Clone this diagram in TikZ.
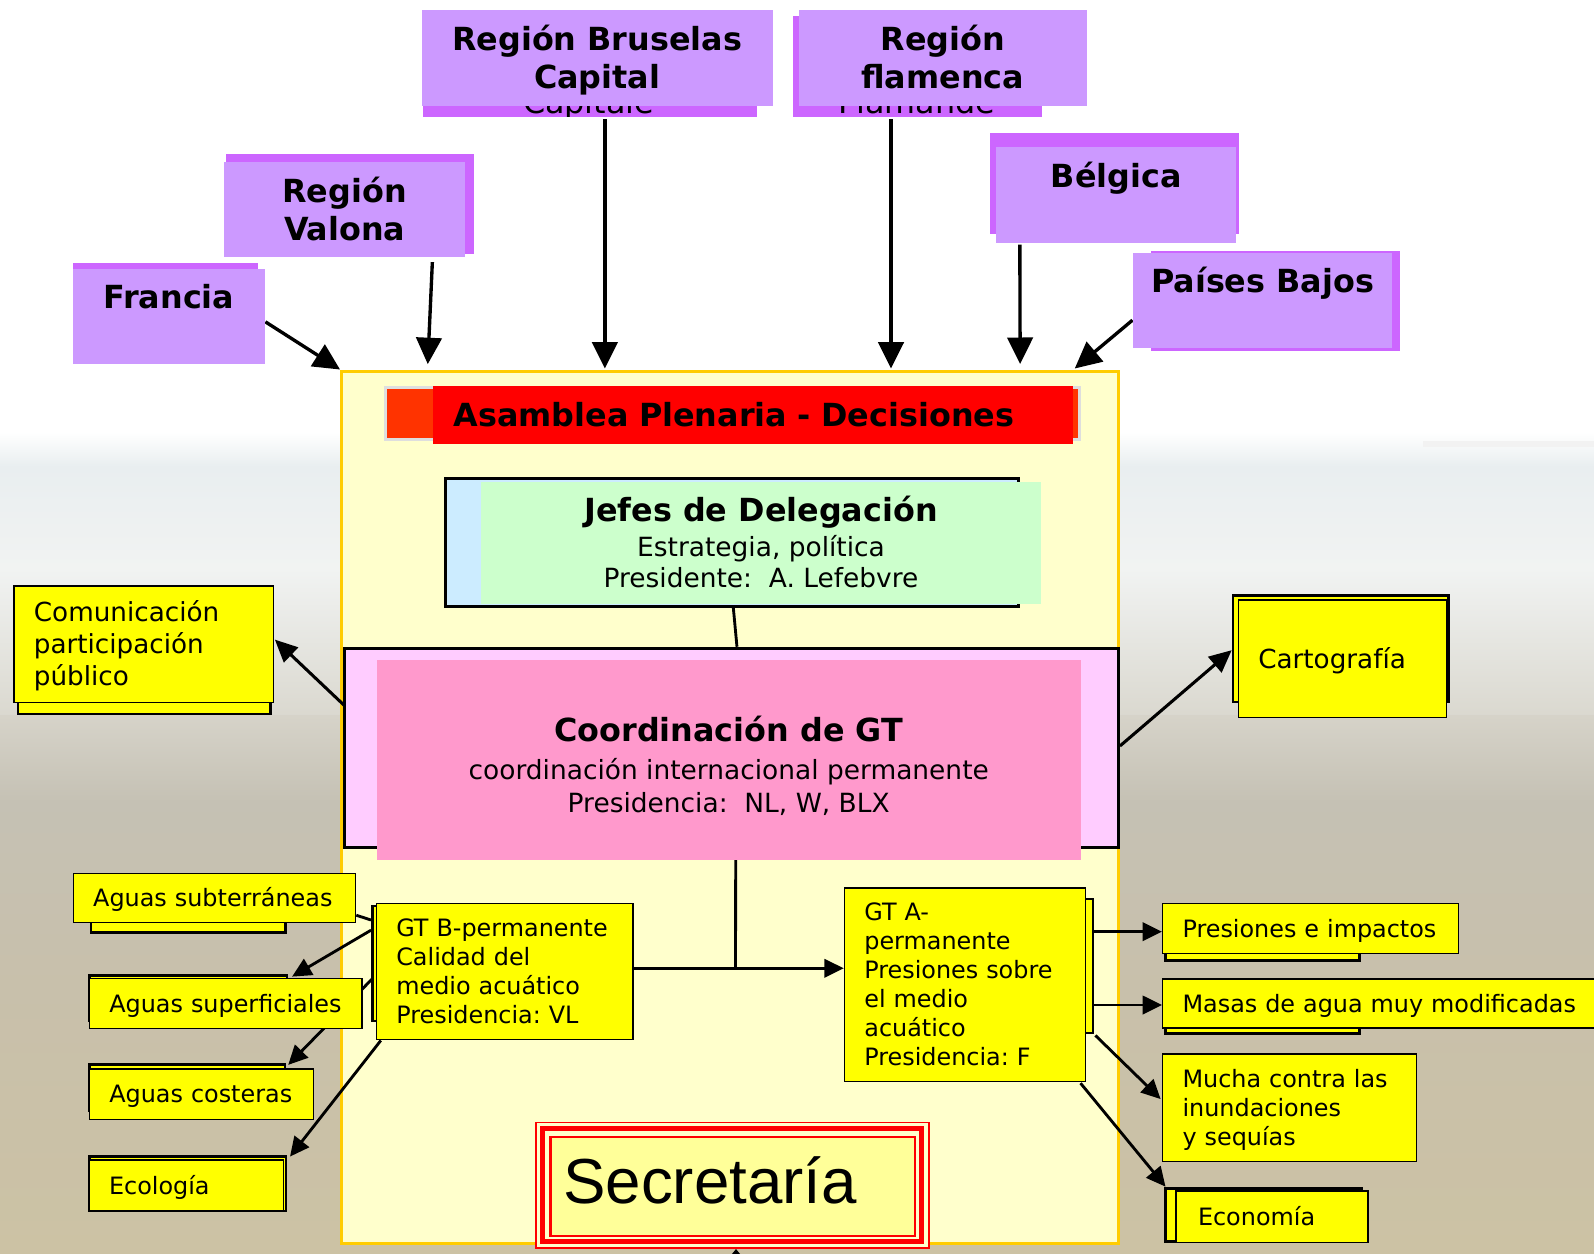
\documentclass[tikz,border=0pt]{standalone}
\usepackage{fontspec}
\setmainfont{DejaVu Sans}
\newfontfamily\arialf{Liberation Sans}
\usetikzlibrary{arrows.meta,calc}
\definecolor{pfront}{HTML}{CC99FF}
\definecolor{pback}{HTML}{CC66FF}
\definecolor{cream}{HTML}{FFFFCC}
\definecolor{gold}{HTML}{FFCC00}
\definecolor{ored}{HTML}{FF3300}
\definecolor{lblue}{HTML}{CCECFF}
\definecolor{lgreen}{HTML}{CCFFCC}
\definecolor{lpink}{HTML}{FFCCFF}
\definecolor{rose}{HTML}{FF99CC}
\definecolor{yel}{HTML}{FFFF00}
\definecolor{pyel}{HTML}{FFFF99}
\definecolor{hzA}{HTML}{E9EEF0}
\definecolor{hzB}{HTML}{F1F3F2}
\definecolor{hzC}{HTML}{DAD8CF}
\definecolor{fldA}{HTML}{D6D3C9}
\definecolor{fldB}{HTML}{C5C1B4}
\definecolor{fldC}{HTML}{C8C0AB}
\definecolor{fldD}{HTML}{CCC2A4}
\pgfdeclareverticalshading{haze}{100bp}{color(0bp)=(hzC); color(25bp)=(hzC); color(51bp)=(hzB); color(69bp)=(hzA); color(75bp)=(white); color(100bp)=(white)}
\pgfdeclareverticalshading{field}{100bp}{color(0bp)=(fldD); color(25bp)=(fldD); color(50bp)=(fldC); color(67bp)=(fldB); color(75bp)=(fldA); color(100bp)=(fldA)}
\pgfdeclarelayer{photo}
\pgfdeclarelayer{conn}
\pgfsetlayers{photo,conn,main}
\makeatletter
\newcommand\ms{\rule[-.23\dimexpr\f@size pt\relax]{0pt}{1.18\dimexpr\f@size pt\relax}}
\makeatother
\newcommand\Ln[1]{\mbox{\ms #1}}
\newcommand\fB{\fontsize{31.3}{37.5}\selectfont\bfseries}
\newcommand\fS{\fontsize{23.5}{28.5}\selectfont}
\newcommand\fM{\fontsize{25.8}{31.5}\selectfont}
\begin{document}
\frenchspacing
\begin{tikzpicture}[x=1pt,y=1pt,
  sz/.style 2 args={minimum width=#1pt, minimum height=#2pt},
  pbk/.style={fill=pback, inner sep=0pt, anchor=north west},
  pfr/.style={fill=pfront, inner sep=0pt, anchor=north west, align=center, font=\fB},
  ybox/.style={fill=yel, draw=black, line width=1.5pt, inner xsep=19.5pt, inner ysep=0pt, align=left, anchor=north west, font=\fS},
  ybk/.style={fill=yel, draw=black, line width=2.5pt, inner sep=0pt, anchor=north west},
  arrT/.style={line width=3.3pt, -{Triangle[length=26pt,width=25pt]}},
  arrM/.style={line width=3pt, -{Triangle[length=22pt,width=20pt]}},
  arrS/.style={line width=2.8pt, -{Triangle[length=19pt,width=18pt]}},
  ln/.style={line width=2.8pt}]
\useasboundingbox (0,0) rectangle (1568,-1233);

% ---------- photo background and container ----------
\begin{pgfonlayer}{photo}
\fill[white] (0,0) rectangle (1568,-1233);
\shade[shading=haze] (0,-425) rectangle (1568,-705);
\shade[shading=field] (0,-704) rectangle (1568,-1233);
\fill[black!5] (1400,-434) rectangle (1568,-440);
\node[draw=gold, line width=3pt, fill=cream, inner sep=0pt, anchor=north west, sz={764}{858.5}] (cont) at (334.5,-363.5) {};
\end{pgfonlayer}

% ---------- purple boxes ----------
\node[pbk, sz={328}{95}] (brusbk) at (416,-20) {};
\begin{scope}
\clip (416,-20) rectangle (744,-115);
\node[font=\fontsize{31.3}{37}\selectfont, anchor=base, inner sep=0pt] (capt) at (579,-111.5) {Capitale};
\end{scope}
\node[pfr, sz={345.5}{94.5}] (brus) at (414.5,-9.8) {\ms Región Bruselas\\\ms Capital};

\node[pbk, sz={245}{99}] (flambk) at (780,-15.7) {};
\begin{scope}
\clip (780,-15.7) rectangle (1025,-114.8);
\node[font=\fontsize{31.3}{37}\selectfont, anchor=base, inner sep=0pt] (flamd) at (901.6,-111.5) {Flamande};
\end{scope}
\node[pfr, sz={283}{94.5}] (flam) at (785.7,-9.8) {\ms Región\\\ms flamenca};

\node[pbk, sz={244.5}{98}] (valbk) at (222,-151.5) {};
\node[pfr, sz={237}{94}] (valona) at (220.3,-159) {\ms Región\\\ms Valona};

\node[pbk, sz={182}{95}] (frabk) at (71.2,-258.4) {};
\node[pfr, sz={189.5}{93.4}] (francia) at (71.2,-264) {\ms Francia\\\ms};

\node[pbk, sz={244.5}{98.5}] (belbk) at (973.9,-131) {};
\node[pfr, sz={236}{94.4}] (belgica) at (979.8,-144.3) {\ms Bélgica\\\ms};

\node[pbk, sz={244.2}{98}] (paibk) at (1132.3,-247) {};
\node[pfr, sz={255.5}{93.5}] (paises) at (1114,-248.5) {\ms Países Bajos\\\ms};

% ---------- Asamblea ----------
\node[draw=black!13, line width=3pt, fill=ored, inner sep=0pt, anchor=north west, sz={683}{51.5}] (asambk) at (377.5,-379.5) {};
\node[fill=red, inner xsep=20pt, inner ysep=0pt, anchor=north west, sz={629.3}{56.4}, text width=589.3pt, align=left, font=\fB] (asam) at (426,-379.7) {\Ln{Asamblea Plenaria - Decisiones}};

% ---------- Jefes ----------
\node[draw=black, line width=2.7pt, fill=lblue, inner sep=0pt, anchor=north west, sz={563}{125.4}] (jefesbk) at (437.2,-469.7) {};
\node[fill=lgreen, inner sep=0pt, anchor=north west, sz={550}{119.7}, align=center, font=\fontsize{26}{31}\selectfont] (jefes) at (473.4,-473.8) {{\fB\ms Jefes de Delegación}\\[1.2pt]\ms Estrategia, política\\\ms Presidente:\ \ A. Lefebvre};

% ---------- Coordinación ----------
\node[draw=black, line width=3pt, fill=lpink, inner sep=0pt, anchor=north west, sz={761.5}{196}] (coordbk) at (337.2,-636.2) {};
\node[fill=rose, inner sep=0pt, anchor=north west, sz={692.8}{196}, align=center, font=\fontsize{26}{33}\selectfont] (coord) at (370.2,-649.3) {{\fB\ms\rule{0pt}{40pt}Coordinación de GT}\\[4pt]\ms coordinación internacional permanente\\\ms Presidencia:\ \ NL, W, BLX};

% ---------- side boxes ----------
\node[ybk, sz={248.6}{110.5}] (commbk) at (16.4,-590.5) {};
\node[ybox, font=\fM, sz={255.1}{114.7}, text width=216.1pt] (comm) at (13.1,-575.5) {\Ln{Comunicación}\\\Ln{participación}\\\Ln{público}};

\node[ybk, sz={212.1}{104.9}] (cartobk) at (1211.6,-584.3) {};
\node[ybox, font=\fM, sz={204.6}{115.5}, text width=165.6pt] (carto) at (1217.5,-589.5) {\Ln{Cartografía}};

% ---------- GT B ----------
\node[ybk, sz={235}{113}] (gtbbk) at (365,-890) {};
\node[ybox, sz={252.2}{134}, text width=213.2pt] (gtb) at (369.6,-888) {\Ln{GT B-permanente}\\\Ln{Calidad del}\\\Ln{medio acuático}\\\Ln{Presidencia: VL}};

% ---------- GT A ----------
\node[ybk, sz={234}{132}] (gtabk) at (840,-883) {};
\node[ybox, sz={237}{190.2}, text width=198pt] (gta) at (830,-872.8) {\Ln{GT A-}\\\Ln{permanente}\\\Ln{Presiones sobre}\\\Ln{el medio}\\\Ln{acuático}\\\Ln{Presidencia: F}};

% ---------- Secretaría ----------
\node[draw=red, line width=1.6pt, fill=cream, inner sep=0pt, anchor=north west, sz={386.5}{123.5}] (secrout) at (526.5,-1103.5) {};
\draw[red, line width=5pt] (533.3,-1110.3) rectangle (906.2,-1221);
\node[draw=red, line width=2pt, fill=pyel, inner xsep=12.5pt, inner ysep=0pt, anchor=north west, sz={359}{97.5}, text width=334pt, align=left, font=\arialf\fontsize{62.6}{75}\selectfont] (secr) at (540.5,-1117.5) {\Ln{Secretaría\rule[-26pt]{0pt}{0pt}}};

% ---------- left group ----------
\node[ybk, sz={191}{50}] (subtbk) at (88.4,-866) {};
\node[ybox, sz={277.6}{48.1}, text width=238.6pt] (subt) at (71.4,-858.5) {\Ln{Aguas subterráneas}};
\node[ybk, sz={194}{45}] (supbk) at (87,-958.2) {};
\node[ybox, sz={268}{49.3}, text width=229pt] (sup) at (87.3,-961.7) {\Ln{Aguas superficiales}};
\node[ybk, sz={192}{45}] (costbk) at (87,-1046) {};
\node[ybox, sz={220.2}{49.6}, text width=181.2pt] (cost) at (87.3,-1050.9) {\Ln{Aguas costeras}};
\node[ybk, sz={193.3}{54}] (ecobk) at (87,-1136.2) {};
\node[ybox, sz={191}{49.9}, text width=152pt] (eco) at (87,-1140.4) {\Ln{Ecología}};

% ---------- right group ----------
\node[ybk, sz={191}{50.7}] (presbk) at (1145,-893) {};
\node[ybox, sz={291}{49}, text width=252pt] (pres) at (1143,-888) {\Ln{Presiones e impactos}};
\node[ybk, sz={191}{48}] (masbk) at (1145,-967.5) {};
\node[ybox, sz={445}{48.2}, text width=406pt] (masas) at (1143,-962.4) {\Ln{Masas de agua muy modificadas}};
\node[ybox, sz={249.8}{106}, text width=210.8pt] (mucha) at (1143,-1036) {\Ln{Mucha contra las}\\\Ln{inundaciones}\\\Ln{y sequías}};
\node[ybk, sz={193}{52}] (econbk) at (1145,-1168) {};
\node[ybox, inner xsep=21.5pt, sz={188.5}{51}, text width=145.5pt] (econ) at (1156.2,-1170.6) {\Ln{Economía}};

\coordinate (junc) at (723.5,-952.5);
\coordinate (secin) at (724,-1262);

% ---------- connectors ----------
\begin{pgfonlayer}{conn}
\draw[arrT] ($(francia.east)+(0,-5.7)$) -- (cont.north west);
\draw[arrT] ($(valona.south west)+(205,-4.4)$) -- ($(cont.north west)+(86.3,5.3)$);
\draw[arrT] ($(brusbk.south west)+(179,-2)$) -- ($(cont.north west)+(260.5,1)$);
\draw[arrT] ($(flambk.south west)+(96.5,-2)$) -- ($(cont.north west)+(542,1)$);
\draw[arrT] ($(belgica.south west)+(23.4,-1.5)$) -- ($(cont.north west)+(669,5.5)$);
\draw[arrT] ($(paises.west)+(0,-19.5)$) -- ($(cont.north east)+(-44.3,1)$);

\draw[ln] ($(jefesbk.south)+(1.3,0)$) -- ($(coordbk.north)+(5.5,0)$);
\draw[arrM] ($(coordbk.west)+(2.3,41)$) -- ($(comm.east)+(0.7,4.4)$);
\draw[arrM] ($(coordbk.east)+(0,1.9)$) -- ($(cartobk.west)+(0,-1.6)$);

\draw[ln] ($(coord.south)+(6.9,0)$) -- (junc);
\draw[ln] (gtb.east |- junc) -- (junc);
\draw[arrS] (junc) -- (junc -| gta.west);

\draw[ln] ($(gtbbk.north west)+(0,-15)$) -- ($(subt.east)+(0,-17)$);
\draw[arrS] ($(gtbbk.north west)+(0,-25)$) -- ($(sup.north west)+(200,1)$);
\draw[arrS] ($(gtbbk.north west)+(3,-71)$) -- ($(costbk.north east)+(2,-1.5)$);
\draw[arrS] ($(gtb.south west)+(5,0)$) -- ($(ecobk.north east)+(2.5,-1.5)$);

\draw[arrS] ($(gtabk.north east)+(0,-33.5)$) coordinate (pa) -- (pa -| pres.west);
\draw[arrS] ($(gtabk.north east)+(0,-105.6)$) coordinate (ma) -- (ma -| masas.west);
\draw[arrS] ($(gtabk.south east)+(1,-1)$) -- ($(mucha.west)+(-1.3,8.6)$);
\draw[arrS] ($(gta.south east)+(-5.6,-1)$) -- ($(econbk.north west)+(1.5,0.7)$);

\draw[line width=2pt, -{Triangle[length=9pt,width=14pt]}] (secin) -- (secin |- secrout.south);
\end{pgfonlayer}
\end{tikzpicture}
\end{document}
